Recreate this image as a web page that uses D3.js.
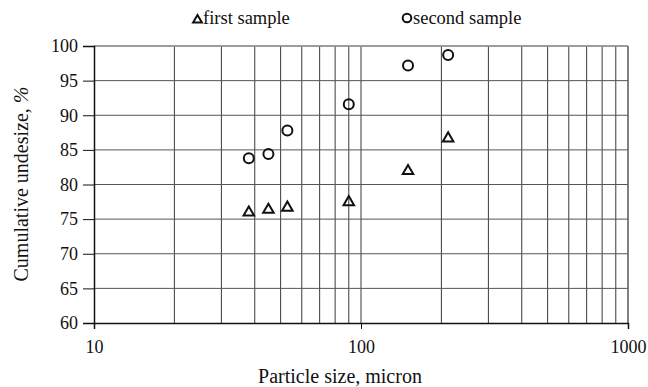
<!DOCTYPE html>
<html><head><meta charset="utf-8">
<script src="https://cdn.jsdelivr.net/npm/d3@7"></script>
<style>body{margin:0;background:#fff}svg{display:block}</style>
</head><body>
<svg id="c" width="648" height="387"></svg>
<script>
const sizes = [38, 45, 53, 90, 150, 212];
const firstSample = [76.1, 76.5, 76.8, 77.6, 82.1, 86.8];
const secondSample = [83.8, 84.4, 87.8, 91.6, 97.2, 98.7];
const yTicks = [60, 65, 70, 75, 80, 85, 90, 95, 100];
const xTickLabels = [10, 100, 1000];

const FONT = "'Liberation Serif', 'DejaVu Serif', serif";
const svg = d3.select("#c");
const L = 94, R = 628, T = 46, B = 323;
const x = d3.scaleLog().domain([10, 1000]).range([L, R]);
const y = d3.scaleLinear().domain([60, 100]).range([B, T]);

const gridX = [];
for (let d = 10; d < 1000; d *= 10) for (let k = 2; k <= 10; k++) gridX.push(d * k);
svg.append("g").selectAll("line").data(gridX).join("line")
  .attr("x1", d => x(d)).attr("x2", d => x(d)).attr("y1", T).attr("y2", B)
  .attr("stroke", "#3a3a3a").attr("stroke-width", 1);
svg.append("g").selectAll("line").data(yTicks.slice(1)).join("line")
  .attr("x1", L).attr("x2", R).attr("y1", d => y(d)).attr("y2", d => y(d))
  .attr("stroke", "#555").attr("stroke-width", 1);
svg.append("line").attr("x1", L).attr("x2", R).attr("y1", T).attr("y2", T).attr("stroke", "#999").attr("stroke-width", 1.5);
svg.append("line").attr("x1", R).attr("x2", R).attr("y1", T).attr("y2", B).attr("stroke", "#666").attr("stroke-width", 1);

const yAxis = svg.append("g").attr("transform", `translate(${L},0)`)
  .call(d3.axisLeft(y).tickValues(yTicks).tickSize(11).tickPadding(5));
yAxis.attr("font-family", null).attr("font-size", null);
yAxis.select(".domain").attr("stroke", "#111").attr("stroke-width", 1.5);
yAxis.selectAll(".tick line").attr("stroke", "#111");
yAxis.selectAll("text").style("font-family", FONT).style("font-size", "18px").attr("fill", "#111");

const xAxis = svg.append("g").attr("transform", `translate(0,${B})`)
  .call(d3.axisBottom(x).tickValues(xTickLabels).tickFormat(d3.format("d")).tickSize(6).tickPadding(11));
xAxis.attr("font-family", null).attr("font-size", null);
xAxis.select(".domain").attr("stroke", "#111").attr("stroke-width", 1.5);
xAxis.selectAll(".tick line").attr("stroke", "#111");
xAxis.selectAll("text").style("font-family", FONT).style("font-size", "18px").attr("fill", "#111");

svg.append("text").attr("x", 340).attr("y", 383).attr("text-anchor", "middle")
  .style("font-family", FONT).style("font-size", "20px").attr("fill", "#111").text("Particle size, micron");
const yt = svg.append("text").attr("transform", `translate(28,184) rotate(-90)`).attr("text-anchor", "middle")
  .style("font-family", FONT).style("font-size", "20px").attr("fill", "#111");
yt.append("tspan").text("Cumulative undesize, ");
yt.append("tspan").style("font-style", "italic").text("%");

const tri = d3.symbol().type(d3.symbolTriangle).size(48);
svg.append("g").selectAll("path").data(sizes.map((s, i) => [s, firstSample[i]])).join("path")
  .attr("d", tri).attr("transform", d => `translate(${x(d[0])},${y(d[1]) + 1})`)
  .attr("fill", "none").attr("stroke", "#111").attr("stroke-width", 2);
svg.append("g").selectAll("circle").data(sizes.map((s, i) => [s, secondSample[i]])).join("circle")
  .attr("cx", d => x(d[0])).attr("cy", d => y(d[1])).attr("r", 5)
  .attr("fill", "none").attr("stroke", "#111").attr("stroke-width", 2);

const lgTri = d3.symbol().type(d3.symbolTriangle).size(34);
const lg = svg.append("g");
lg.append("path").attr("d", lgTri).attr("transform", "translate(197.5,20)")
  .attr("fill", "none").attr("stroke", "#111").attr("stroke-width", 2);
lg.append("text").attr("x", 203).attr("y", 24).style("font-family", FONT).style("font-size", "18.5px").attr("fill", "#111").text("first sample");
lg.append("circle").attr("cx", 407).attr("cy", 18).attr("r", 4.3)
  .attr("fill", "none").attr("stroke", "#111").attr("stroke-width", 2);
lg.append("text").attr("x", 413).attr("y", 24).style("font-family", FONT).style("font-size", "18.5px").attr("fill", "#111").text("second sample");
</script>
</body></html>
